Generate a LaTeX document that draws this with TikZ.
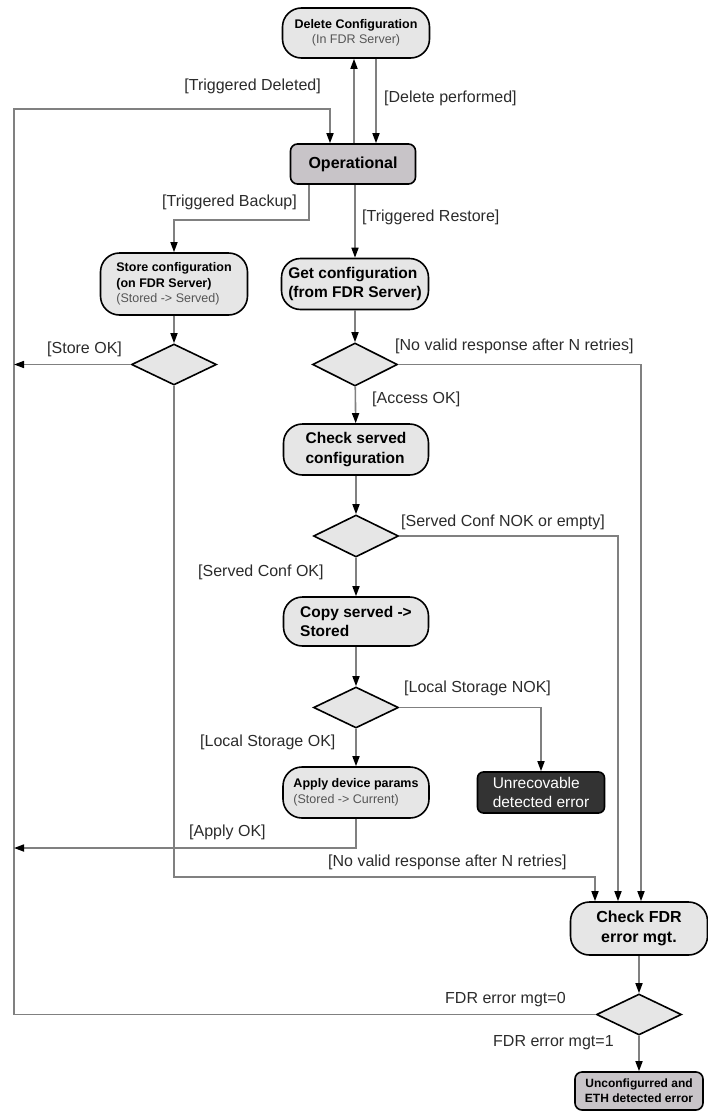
\documentclass[tikz,border=0pt]{standalone}
\usepackage{fontspec}
\setmainfont{Liberation Sans}
\usetikzlibrary{arrows.meta,shapes.geometric}

\definecolor{boxgray}{HTML}{E6E6E6}
\definecolor{darkbox}{HTML}{C8C4C8}
\definecolor{errbox}{HTML}{333333}
\definecolor{linegray}{HTML}{808080}
\definecolor{subgray}{HTML}{555555}
\definecolor{labelgray}{HTML}{2B2B2B}

\begin{document}
\begin{tikzpicture}[x=1pt, y=-1pt,
    state/.style={draw, line width=1.6pt, fill=boxgray, rounded corners=19pt, inner sep=0pt, align=left},
    big/.style={state, font=\fontsize{15.5}{19.5}\selectfont\bfseries},
    small/.style={state, font=\fontsize{12.5}{15.5}\selectfont},
    flat/.style={draw, line width=1.6pt, fill=darkbox, rounded corners=7pt, inner sep=0pt, align=center},
    choice/.style={diamond, draw, line width=1.6pt, fill=boxgray, inner sep=0pt, minimum width=85pt, minimum height=42pt},
    conn/.style={draw=linegray, line width=1.6pt, -{Triangle[length=10pt, width=7pt, color=black]}},
    line/.style={draw=linegray, line width=1.6pt},
    guard/.style={text=labelgray, inner sep=0pt, font=\fontsize{16}{19}\selectfont}]

    \useasboundingbox (0,0) rectangle (707,1111);

    % states
    \node[small, align=center, minimum width=147pt, minimum height=50pt] at (356, 33) (del) {\textbf{Delete Configuration}\\{\color{subgray}(In FDR Server)}};
    \node[flat, minimum width=125pt, minimum height=40pt, font=\fontsize{16}{19}\selectfont\bfseries] at (353, 164) (oper) {Operational};
    \node[small, minimum width=147pt, minimum height=62pt] at (174, 284) (store) {\textbf{Store configuration}\\\textbf{(on FDR Server)}\\{\color{subgray}(Stored -> Served)}};
    \node[big, minimum width=147pt, minimum height=51pt] at (355, 284) (getc) {Get configuration\\(from FDR Server)};
    \node[big, minimum width=145pt, minimum height=51pt] at (356, 449.5) (chk) {Check served\\configuration};
    \node[big, minimum width=145pt, minimum height=49pt] at (356, 621.5) (copy) {Copy served ->\\Stored};
    \node[small, minimum width=146pt, minimum height=51pt] at (356, 792.5) (apply) {\textbf{Apply device params}\\{\color{subgray}(Stored -> Current)}};
    \node[draw, line width=1.6pt, fill=errbox, text=white, rounded corners=6pt, align=left, minimum width=127pt, minimum height=41pt, inner sep=0pt, font=\fontsize{15.5}{19}\selectfont] at (541, 792.5) (unrec) {Unrecovable\\detected error};
    \node[big, align=center, minimum width=137pt, minimum height=53pt, font=\fontsize{16}{19.5}\selectfont\bfseries] at (639, 928.5) (fdr) {Check FDR\\error mgt.};
    \node[flat, minimum width=128pt, minimum height=38pt, font=\fontsize{12}{15}\selectfont\bfseries] at (639, 1091) (uncfg) {Unconfigurred and\\ETH detected error};

    % decisions
    \node[choice, minimum height=41pt] at (174, 364.5) (d1) {};
    \node[choice, minimum height=43pt] at (355, 364.5) (d2) {};
    \node[choice] at (356, 536) (d3) {};
    \node[choice, minimum height=41pt] at (356, 707.5) (d4) {};
    \node[choice, minimum height=41pt] at (639, 1014.5) (d5) {};

    \coordinate (lft) at (14, 109);
    \coordinate (ap) at (14, 848);
    \coordinate (nv) at (595, 877);

    % connectors
    \path[conn] ([xshift=1pt]oper.north) -- ([xshift=1pt]oper.north |- del.south);
    \path[conn] ([xshift=23pt]oper.north |- del.south) -- ([xshift=23pt]oper.north);
    \path[conn] (d5.west) -| (lft) -| ([xshift=-23pt]oper.north);
    \path[conn] ([xshift=-44pt]oper.south) -- ++(0, 35) -| (store.north);
    \path[conn] (oper.south -| getc.north) -- (getc.north);
    \path[conn] (store) edge (d1);
    \path[conn] (d1.west) -- (d1.west -| lft);
    \path[conn] (d1.south) |- (nv) -- (nv |- fdr.north);
    \path[conn] (getc) edge (d2);
    \path[conn] (d2.east) -| ([xshift=2pt]fdr.north);
    \path[conn] (d2) edge (chk);
    \path[conn] (chk) edge (d3);
    \path[conn] (d3.east) -| ([xshift=-21pt]fdr.north);
    \path[conn] (d3) edge (copy);
    \path[conn] (copy) edge (d4);
    \path[conn] (d4.east) -| (unrec.north);
    \path[conn] (d4) edge (apply);
    \path[conn] (apply.south) |- (ap);
    \path[conn] (fdr) edge (d5);
    \path[conn] (d5) edge (uncfg);

    % guards
    \node[guard, anchor=east] at (321, 86) (gdel) {[Triggered Deleted]};
    \node[guard, anchor=west] at (384, 98) (gperf) {[Delete performed]};
    \node[guard, anchor=east] at (297, 202) (gbak) {[Triggered Backup]};
    \node[guard, anchor=west] at (362, 217) (grest) {[Triggered Restore]};
    \node[guard, anchor=west] at (47, 349) (gsok) {[Store OK]};
    \node[guard, anchor=west] at (395, 346) (gnv1) {[No valid response after N retries]};
    \node[guard, anchor=west] at (372, 399) (gacc) {[Access OK]};
    \node[guard, anchor=west] at (401, 522) (gnok) {[Served Conf NOK or empty]};
    \node[guard, anchor=west] at (198, 572) (gok) {[Served Conf OK]};
    \node[guard, anchor=west] at (404, 688) (glnok) {[Local Storage NOK]};
    \node[guard, anchor=west] at (200, 742) (glok) {[Local Storage OK]};
    \node[guard, anchor=west] at (189, 832) (gapp) {[Apply OK]};
    \node[guard, anchor=west] at (328, 862) (gnv2) {[No valid response after N retries]};
    \node[guard, anchor=west] at (445, 1000) (gm0) {FDR error mgt=0};
    \node[guard, anchor=west] at (493, 1043) (gm1) {FDR error mgt=1};
\end{tikzpicture}
\end{document}
